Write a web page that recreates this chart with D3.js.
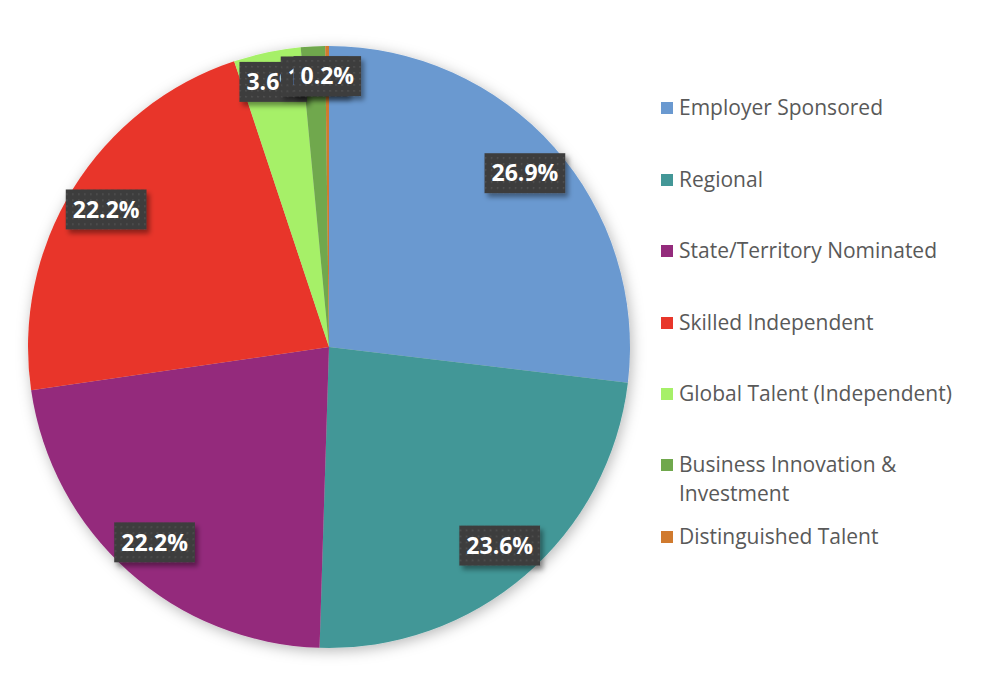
<!DOCTYPE html>
<html lang="en">
<head>
    <meta charset="UTF-8">
    <title>Skilled visa streams</title>
    <style>
        body { margin: 0; background: #fff; }
        * { font-family: "Open Sans", sans-serif; }
    </style>
</head>
<body>
<script src="https://d3js.org/d3.v7.min.js"></script>
<script>
    var width = 990;
    var height = 678;

    var categories = ["Employer Sponsored", "Regional", "State/Territory Nominated", "Skilled Independent",
        "Global Talent (Independent)", "Business Innovation & Investment", "Distinguished Talent"];
    var shares = [26.9, 23.6, 22.2, 22.2, 3.6, 1.3, 0.2];
    var colours = ["#6a99d0", "#439797", "#942b7c", "#e8362a", "#a6f068", "#70a84d", "#d07a2e"];
    var legendLines = [["Employer Sponsored"], ["Regional"], ["State/Territory Nominated"], ["Skilled Independent"],
        ["Global Talent (Independent)"], ["Business Innovation &", "Investment"], ["Distinguished Talent"]];

    var cx = 329, cy = 347, radius = 301;

    var data = categories.map(function(c, i) { return { name: c, value: shares[i], colour: colours[i], lines: legendLines[i] }; });

    var svg = d3.select("body")
        .append("svg")
        .attr("width", width)
        .attr("height", height);

    var defs = svg.append("defs");

    var glow = defs.append("filter").attr("id", "glow")
        .attr("x", "-10%").attr("y", "-10%").attr("width", "120%").attr("height", "120%");
    glow.append("feDropShadow").attr("dx", 2).attr("dy", 3).attr("stdDeviation", 7)
        .attr("flood-color", "#000").attr("flood-opacity", 0.28);

    var boxShadow = defs.append("filter").attr("id", "boxShadow")
        .attr("x", "-20%").attr("y", "-30%").attr("width", "150%").attr("height", "170%");
    boxShadow.append("feDropShadow").attr("dx", 3).attr("dy", 4).attr("stdDeviation", 2.5)
        .attr("flood-color", "#000").attr("flood-opacity", 0.4);

    var dots = defs.append("pattern").attr("id", "dots")
        .attr("patternUnits", "userSpaceOnUse").attr("width", 6).attr("height", 6);
    dots.append("rect").attr("width", 6).attr("height", 6).attr("fill", "#3d3d3d");
    dots.append("rect").attr("x", 2).attr("y", 2).attr("width", 1.5).attr("height", 1.5).attr("fill", "#555");

    var pie = d3.pie().sort(null).value(function(d) { return d.value; });
    var arc = d3.arc().innerRadius(0).outerRadius(radius);
    // big slices get labels a little inside, thin ones are pushed out toward the rim
    var labelArc = d3.arc().innerRadius(radius * 0.87).outerRadius(radius * 0.87);
    var smallArc = d3.arc().innerRadius(radius * 0.9).outerRadius(radius * 0.9);

    var arcs = pie(data);

    var g = svg.append("g").attr("transform", "translate(" + cx + "," + cy + ")");

    g.append("g")
        .attr("filter", "url(#glow)")
        .selectAll("path")
        .data(arcs)
        .enter()
        .append("path")
        .attr("d", arc)
        .attr("fill", function(d) { return d.data.colour; });

    // data labels
    var labels = g.append("g")
        .selectAll("g")
        .data(arcs)
        .enter()
        .append("g")
        .attr("transform", function(d) {
            var a = d.data.value < 5 ? smallArc : labelArc;
            return "translate(" + a.centroid(d) + ")";
        });

    labels.each(function(d) {
        var lab = d3.select(this);
        var txt = lab.append("text")
            .attr("text-anchor", "middle")
            .attr("dy", "0.36em")
            .attr("fill", "#fff")
            .style("font-weight", "bold")
            .style("font-size", "23px")
            .text(d.data.value.toFixed(1) + "%");
        var w = txt.node().getComputedTextLength() + 14;
        lab.insert("rect", "text")
            .attr("x", -w / 2)
            .attr("y", -20)
            .attr("width", w)
            .attr("height", 40)
            .attr("fill", "url(#dots)")
            .attr("filter", "url(#boxShadow)");
    });

    // legend
    var legend = svg.append("g").attr("transform", "translate(661,0)");
    var rowY = [108, 180, 251, 323, 394, 465, 537];

    var items = legend.selectAll("g")
        .data(data)
        .enter()
        .append("g")
        .attr("transform", function(d, i) { return "translate(0," + rowY[i] + ")"; });

    items.append("rect")
        .attr("x", 0)
        .attr("y", -6)
        .attr("width", 12)
        .attr("height", 12)
        .attr("fill", function(d) { return d.colour; });

    items.append("text")
        .attr("x", 18)
        .attr("fill", "#595959")
        .style("font-size", "21px")
        .selectAll("tspan")
        .data(function(d) { return d.lines; })
        .enter()
        .append("tspan")
        .attr("x", 18)
        .attr("y", function(d, i) { return i * 29; })
        .attr("dy", "0.35em")
        .text(function(d) { return d; });
</script>
</body>
</html>
